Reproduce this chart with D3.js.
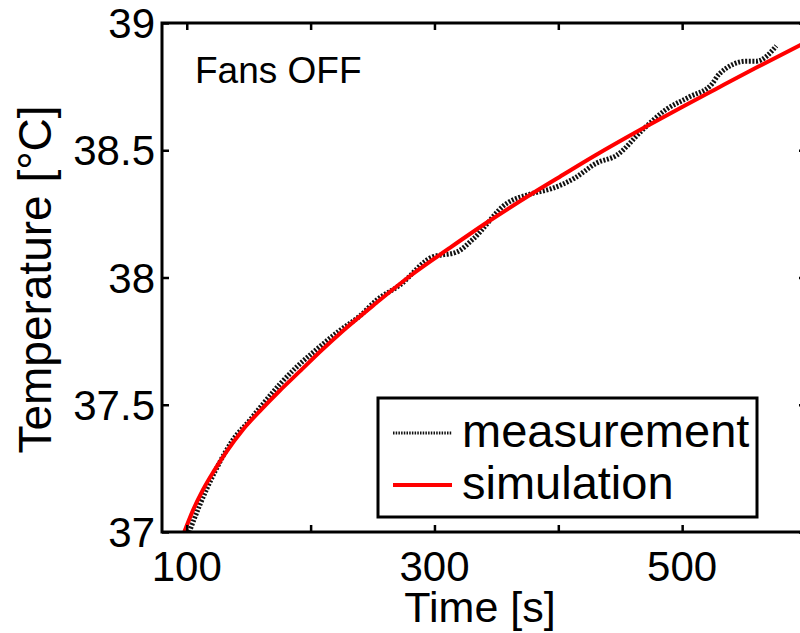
<!DOCTYPE html>
<html>
<head>
<meta charset="utf-8">
<script src="https://cdn.jsdelivr.net/npm/d3@7"></script>
<style>
  html, body { margin: 0; padding: 0; background: #fff; overflow: hidden; }
  svg { display: block; font-family: "Liberation Sans", Arial, sans-serif; }
</style>
</head>
<body>
<div id="chart"></div>
<script>
// data
var simTime = [98, 105, 113, 122, 132, 145, 159, 175, 191, 208, 226, 253, 280, 312, 342, 379, 401, 430, 468, 500, 527, 560, 600];
var simTemp = [37.00, 37.085, 37.165, 37.24, 37.315, 37.40, 37.475, 37.555, 37.63, 37.71, 37.79, 37.90, 38.005, 38.115, 38.215, 38.33, 38.395, 38.48, 38.585, 38.67, 38.74, 38.825, 38.925];

var measTime = [102, 110, 123, 137, 151, 161, 175, 189, 203, 223, 240, 253, 272, 298, 318, 331, 358, 379, 395, 413, 431, 447, 468, 487, 506, 524, 530, 552, 560, 576];
var measTemp = [37.00, 37.10, 37.24, 37.36, 37.44, 37.50, 37.58, 37.65, 37.71, 37.79, 37.85, 37.91, 37.97, 38.08, 38.10, 38.15, 38.29, 38.33, 38.35, 38.39, 38.45, 38.48, 38.58, 38.66, 38.71, 38.76, 38.80, 38.85, 38.85, 38.91];

var xTicks = [100, 200, 300, 400, 500];
var xTickLabels = [100, 300, 500];
var yTicks = [37, 37.5, 38, 38.5, 39];
var seriesNames = ["measurement", "simulation"];

// Variables
var width = 800;
var height = 633;
var box = { left: 162, right: 806, top: 23, bottom: 532 };

var x = d3.scaleLinear().domain([80, 600]).range([box.left, box.right]);
var y = d3.scaleLinear().domain([37, 39]).range([box.bottom, box.top]);

var svg = d3.select('#chart')
    .append('svg')
    .attr('width', width)
    .attr('height', height);

svg.append('defs').append('clipPath')
    .attr('id', 'plot-clip')
    .append('rect')
    .attr('x', box.left).attr('y', box.top)
    .attr('width', box.right - box.left).attr('height', box.bottom - box.top);

// curves
var line = d3.line()
    .x(function (d) { return x(d[0]); })
    .y(function (d) { return y(d[1]); })
    .curve(d3.curveMonotoneX);

var plot = svg.append('g').attr('clip-path', 'url(#plot-clip)');

plot.append('path')
    .datum(measTime.map(function (t, i) { return [t, measTemp[i]]; }))
    .attr('d', line)
    .attr('fill', 'none')
    .attr('stroke', '#111')
    .attr('stroke-width', 5)
    .attr('stroke-dasharray', '2,1.6');

plot.append('path')
    .datum(simTime.map(function (t, i) { return [t, simTemp[i]]; }))
    .attr('d', line)
    .attr('fill', 'none')
    .attr('stroke', '#ff0000')
    .attr('stroke-width', 4);

// axes: inward ticks on all four sides
var tickLen = 7;
svg.append('g')
    .attr('transform', 'translate(0,' + box.bottom + ')')
    .call(d3.axisBottom(x).tickValues(xTicks).tickSize(-tickLen).tickFormat(''))
    .call(function (g) { g.select('.domain').remove(); });
svg.append('g')
    .attr('transform', 'translate(0,' + box.top + ')')
    .call(d3.axisTop(x).tickValues(xTicks).tickSize(-tickLen).tickFormat(''))
    .call(function (g) { g.select('.domain').remove(); });
svg.append('g')
    .attr('transform', 'translate(' + box.left + ',0)')
    .call(d3.axisLeft(y).tickValues(yTicks).tickSize(-tickLen).tickFormat(''))
    .call(function (g) { g.select('.domain').remove(); });
svg.append('g')
    .attr('transform', 'translate(' + box.right + ',0)')
    .call(d3.axisRight(y).tickValues(yTicks).tickSize(-tickLen).tickFormat(''))
    .call(function (g) { g.select('.domain').remove(); });
svg.selectAll('.tick line').attr('stroke', '#000').attr('stroke-width', 2.5);

svg.append('rect')
    .attr('x', box.left).attr('y', box.top)
    .attr('width', box.right - box.left).attr('height', box.bottom - box.top)
    .attr('fill', 'none')
    .attr('stroke', '#000')
    .attr('stroke-width', 3);

// tick labels
svg.selectAll('.xlab')
    .data(xTickLabels)
    .enter().append('text')
    .attr('x', function (d) { return x(d); })
    .attr('y', 581)
    .attr('text-anchor', 'middle')
    .style('font-size', '42px')
    .text(function (d) { return d; });

svg.selectAll('.ylab')
    .data(yTicks)
    .enter().append('text')
    .attr('x', 155)
    .attr('y', function (d) { return y(d) + 15; })
    .attr('text-anchor', 'end')
    .style('font-size', '42px')
    .text(function (d) { return d; });

// axis titles
svg.append('text')
    .attr('x', 480)
    .attr('y', 622)
    .attr('text-anchor', 'middle')
    .style('font-size', '43px')
    .text('Time [s]');

svg.append('text')
    .attr('transform', 'translate(51,' + ((box.top + box.bottom) / 2 + 2) + ') rotate(-90)')
    .attr('text-anchor', 'middle')
    .style('font-size', '46px')
    .text('Temperature [°C]');

svg.append('text')
    .attr('x', 195)
    .attr('y', 83)
    .style('font-size', '37px')
    .text('Fans OFF');

// legend
var lg = svg.append('g');
lg.append('rect')
    .attr('x', 378).attr('y', 398)
    .attr('width', 379).attr('height', 119)
    .attr('fill', '#fff')
    .attr('stroke', '#000')
    .attr('stroke-width', 3);

var legendY = [433, 485];
lg.selectAll('line')
    .data(seriesNames)
    .enter().append('line')
    .attr('x1', 393).attr('x2', 452)
    .attr('y1', function (d, i) { return legendY[i]; })
    .attr('y2', function (d, i) { return legendY[i]; })
    .attr('stroke', function (d, i) { return i ? '#ff0000' : '#111'; })
    .attr('stroke-width', function (d, i) { return i ? 4 : 3; })
    .attr('stroke-dasharray', function (d, i) { return i ? null : '1.5,1.2'; });

lg.selectAll('text')
    .data(seriesNames)
    .enter().append('text')
    .attr('x', 462)
    .attr('y', function (d, i) { return legendY[i] + 14; })
    .style('font-size', '47px')
    .text(function (d) { return d; });
</script>
</body>
</html>
